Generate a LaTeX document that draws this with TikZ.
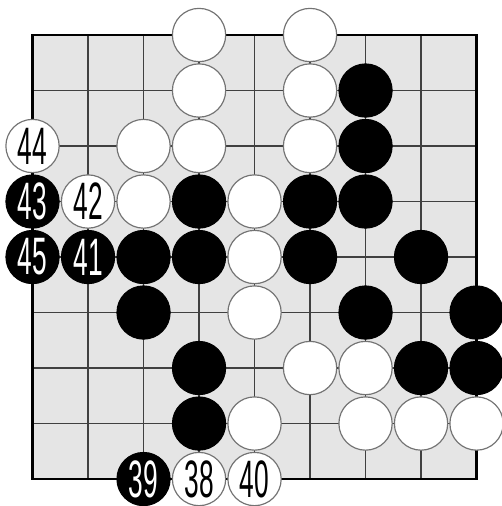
\documentclass[tikz,border=0pt]{standalone}
\usepackage{fontspec}
\newfontfamily\stonefont[FakeStretch=0.5]{Liberation Sans}
\usetikzlibrary{positioning}

\definecolor{boardgray}{RGB}{229,229,229}
\tikzset{
  gridline/.style={line width=0.75pt, black!75},
  edgeline/.style={line width=1.1pt, black},
  stone/.style={circle, minimum size=0.96cm, inner sep=0pt,
    font=\fontsize{27}{27}\stonefont},
  bstone/.style={stone, fill=black, draw=black, line width=0.5pt, text=white},
  wstone/.style={stone, fill=white, draw=black!55, line width=0.6pt, text=black}
}

\begin{document}
\begin{tikzpicture}[x=1cm,y=-1cm]
  \useasboundingbox (-0.586,-0.631) rectangle (8.441,8.486);
  % board
  \fill[boardgray] (0,0) rectangle (8,8);
  \foreach \i in {1,...,7} {
    \draw[gridline] (\i,0) -- (\i,8);
    \draw[gridline] (0,\i) -- (8,\i);
  }
  \draw[edgeline] (0,0) rectangle (8,8);
  % stones already on the board
  \foreach \c/\r in {3/0,5/0,3/1,5/1,2/2,3/2,5/2,2/3,4/3,4/4,4/5,5/6,6/6,4/7,6/7,7/7,8/7}
    \node[wstone] (w-\c-\r) at (\c,\r) {};
  \foreach \c/\r in {6/1,6/2,3/3,5/3,6/3,2/4,3/4,5/4,7/4,2/5,6/5,8/5,3/6,7/6,8/6,3/7}
    \node[bstone] (b-\c-\r) at (\c,\r) {};
  % numbered moves
  \node[wstone] (m38) at (3,8) {38};
  \node[bstone] (m39) at (2,8) {39};
  \node[wstone] (m40) at (4,8) {40};
  \node[bstone] (m41) at (1,4) {41};
  \node[wstone] (m42) at (1,3) {42};
  \node[bstone] (m43) at (0,3) {43};
  \node[wstone] (m44) at (0,2) {44};
  \node[bstone] (m45) at (0,4) {45};
\end{tikzpicture}
\end{document}
